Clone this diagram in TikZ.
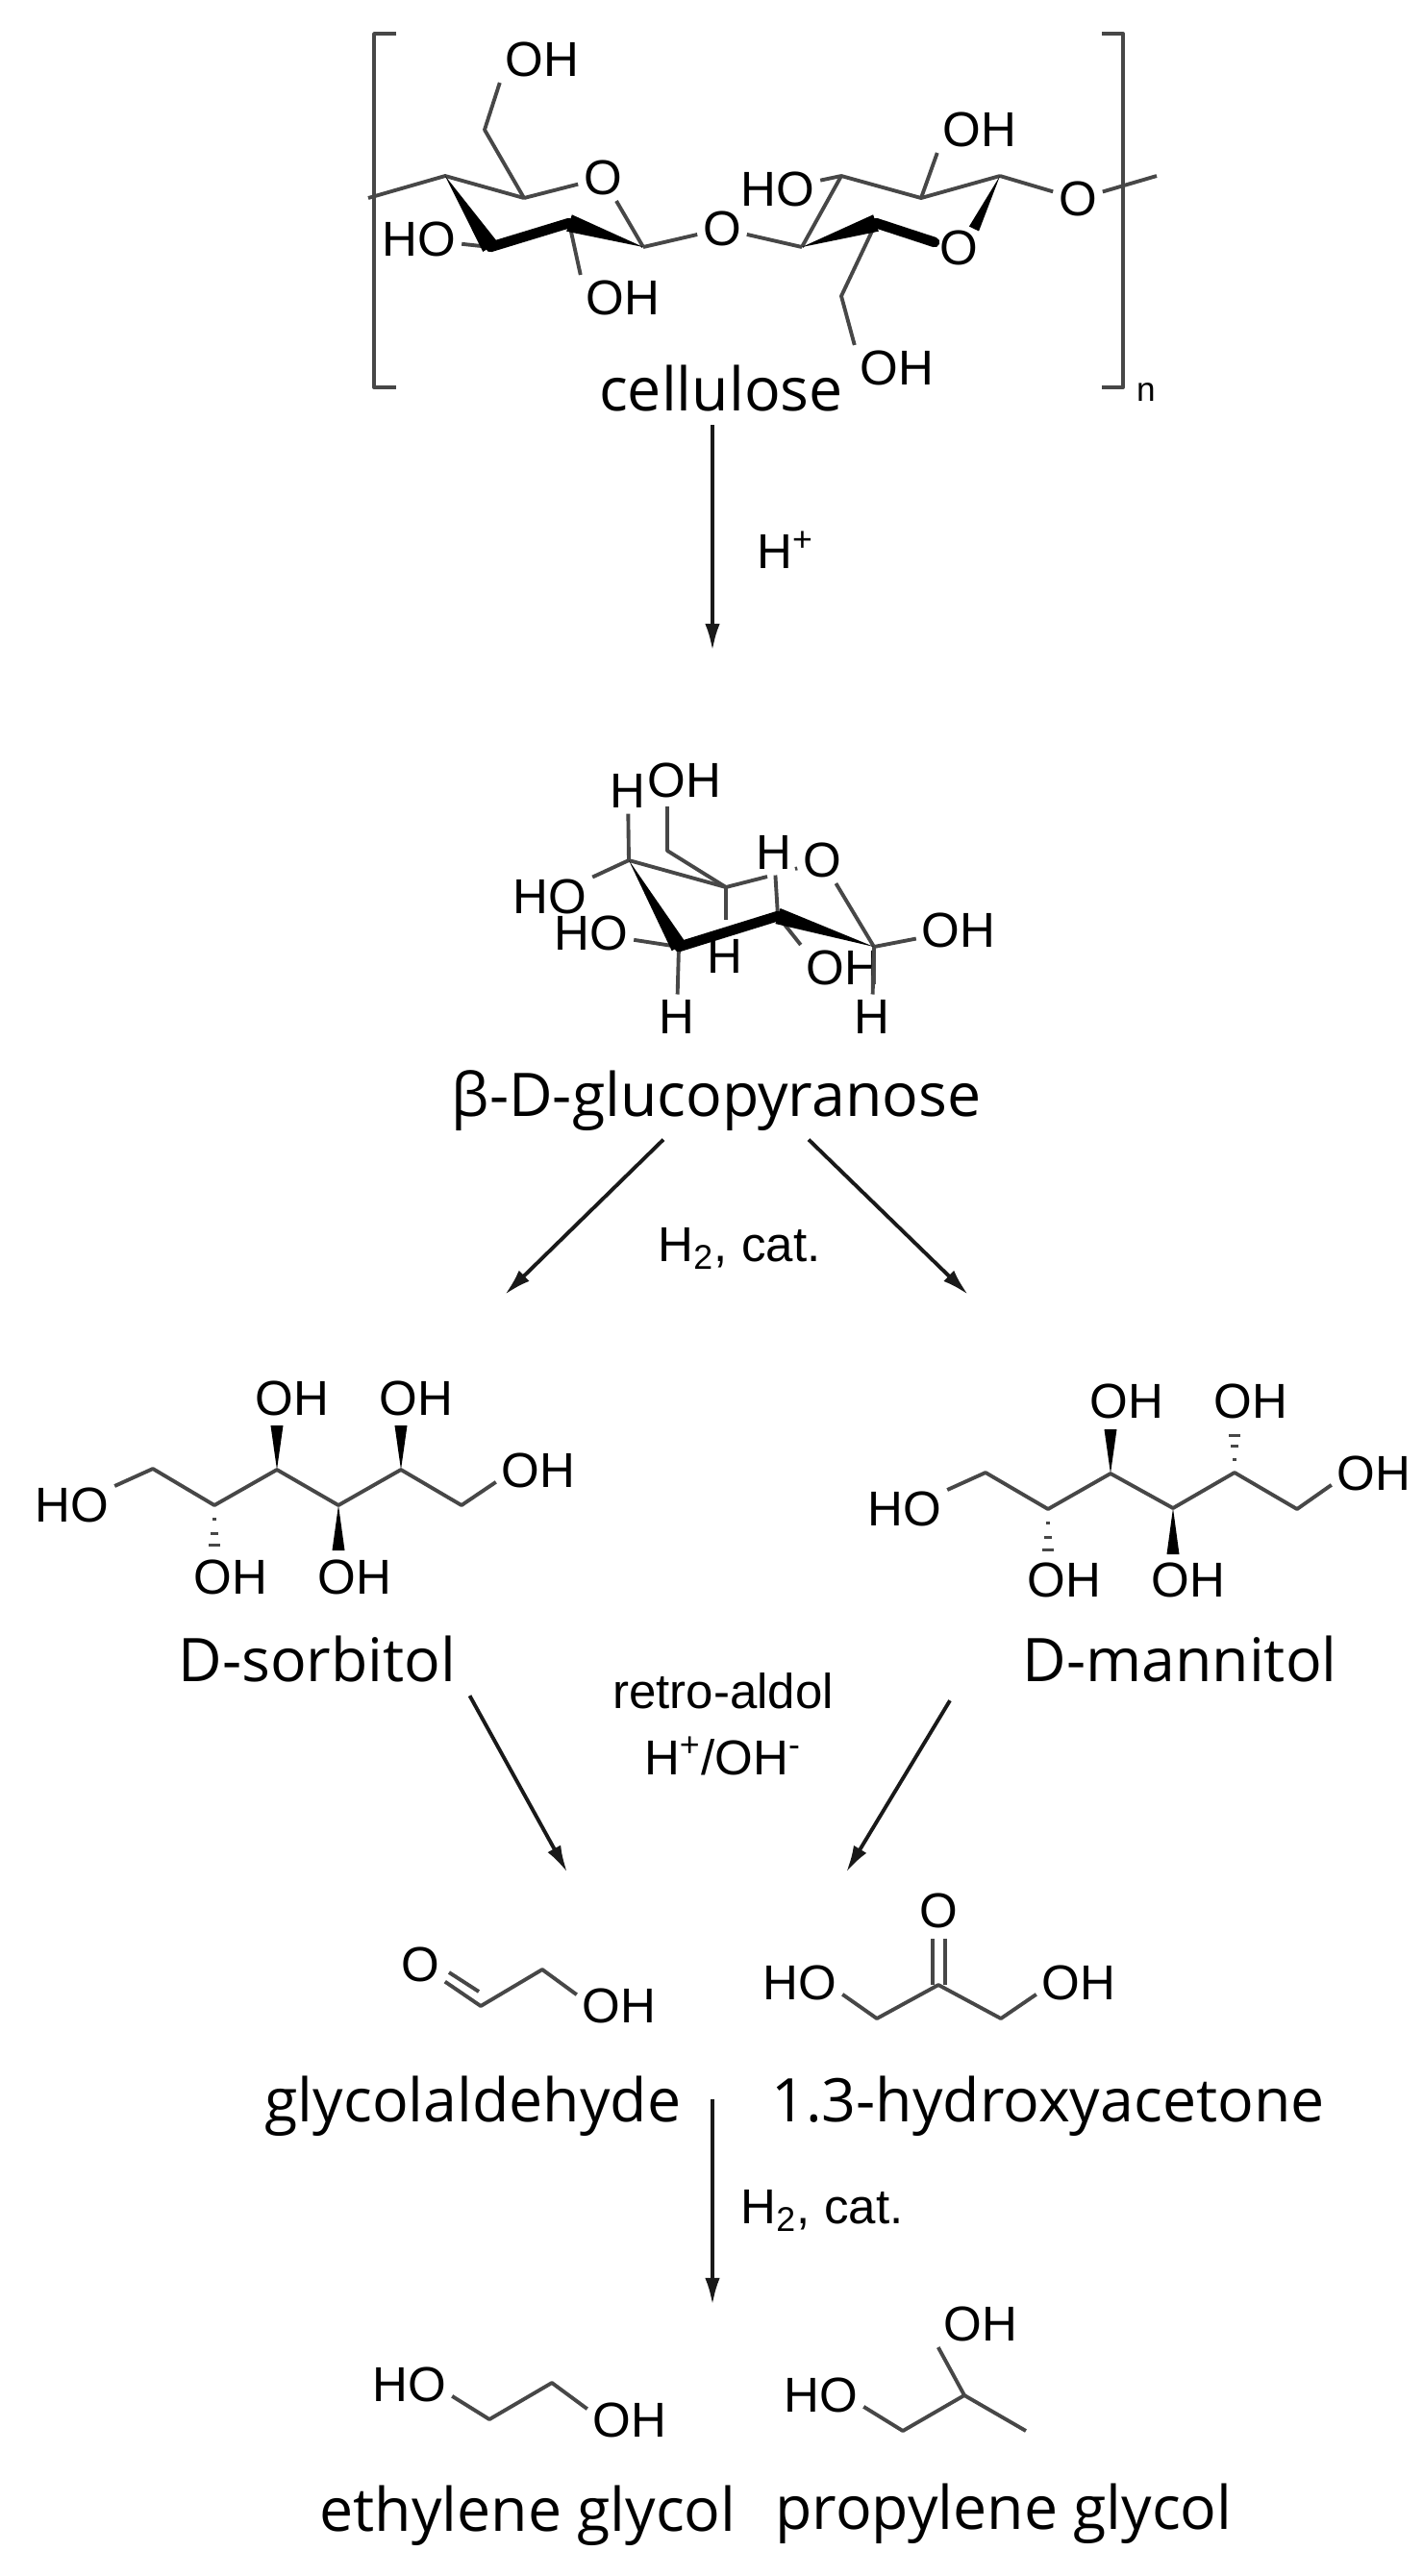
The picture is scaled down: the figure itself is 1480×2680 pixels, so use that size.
\documentclass[tikz,border=0pt]{standalone}
\usepackage{fontspec}
\setmainfont{Liberation Sans}
\newfontfamily\namefont{Open Sans}
\usetikzlibrary{shapes,arrows.meta,calc}
\tikzstyle{line} = [draw, -{Latex[length=8pt,width=4.4pt]}, line width=1.1pt, black!90]
\tikzstyle{bond} = [draw, black!72, line width=1.1pt, line join=round]
\tikzstyle{thick bond} = [draw, black, line width=3pt, line cap=round]
\tikzstyle{atom} = [inner sep=1.5pt, font=\fontsize{14.5}{16}\selectfont]
\tikzstyle{compound} = [inner sep=2pt, outer sep=2pt, font=\namefont\fontsize{17.8}{21}\selectfont]
\tikzstyle{cond} = [inner sep=1pt, font=\fontsize{14.5}{16}\selectfont]
\newcommand{\wedgebond}[3][1.85pt]{\fill[black] (#2) -- ($(#3)!#1!90:(#2)$) -- ($(#3)!#1!-90:(#2)$) -- cycle;}
\newcommand{\hashbond}[2]{\foreach \t/\w in {0.3/0.5pt,0.62/1.1pt,0.88/1.7pt,1/1.9pt}{\draw[black!72, line width=0.9pt] ($(#1)!\t!(#2)!\w!90:(#2)$) -- ($(#1)!\t!(#2)!\w!-90:(#2)$);}}
\begin{document}
\begin{tikzpicture}[x=0.01cm, y=-0.01cm]
    \useasboundingbox (0,0) rectangle (1480,2680);
    \draw[bond] (412,35) -- (389,35) -- (389,403) -- (412,403);
    \draw[bond] (1146,35) -- (1168,35) -- (1168,403) -- (1146,403);
    \node[cond, font=\fontsize{10}{12}\selectfont] (repeat) at (1192,408) {n};
    \coordinate (a0) at (383,206);
    \coordinate (a1) at (463,183);
    \coordinate (a2) at (545,206);
    \coordinate (a3) at (510,257);
    \coordinate (a4) at (592,232);
    \coordinate (a5) at (669,257);
    \coordinate (ach) at (504,135);
    \coordinate (b1) at (834,257);
    \coordinate (b2) at (911,232);
    \coordinate (b3) at (958,206);
    \coordinate (b4) at (875,183);
    \coordinate (b5) at (1040,183);
    \coordinate (bch) at (875,308);
    \coordinate (bo) at (972,252);
    \coordinate (bw) at (1013,238);
    \coordinate (end) at (1203,183);
    \node[atom] (o1) at (627,185) {O};
    \node[atom] (oha) at (564,62) {OH};
    \node[atom] (hoa) at (436,249) {HO};
    \node[atom] (ohb) at (648,310) {OH};
    \node[atom] (obr) at (751,238) {O};
    \node[atom] (o2) at (997,258) {O};
    \node[atom] (hob) at (809,197) {HO};
    \node[atom] (ohc) at (1019,135) {OH};
    \node[atom] (ohd) at (933,383) {OH};
    \node[atom] (ort) at (1121,207) {O};
    \node[compound] (cellulose) at (750,404) {cellulose};
    \draw[bond] (a0) -- (a1) -- (a2);
    \draw[bond] (a2) -- (o1);
    \draw[bond] (a2) -- (ach) -- (oha.south west);
    \draw[bond] (o1) -- (a5);
    \draw[bond] (a3) -- (hoa);
    \draw[bond] (a4) -- (ohb.north west);
    \draw[bond] (a5) -- (obr);
    \draw[bond] (obr) -- (b1);
    \draw[bond] (b1) -- (b4) -- (b3) -- (b5);
    \draw[bond] (b4) -- (hob);
    \draw[bond] (b3) -- (ohc.south west);
    \draw[bond] (b2) -- (bch) -- (ohd.north west);
    \draw[bond] (b5) -- (ort);
    \draw[bond] (ort) -- (end);
    \wedgebond[2.6pt]{a1}{a3}
    \draw[thick bond] (a3) -- (a4);
    \wedgebond[2.6pt]{a5}{a4}
    \wedgebond[2.6pt]{b1}{b2}
    \draw[thick bond] (b2) -- (bo);
    \wedgebond[1.6pt]{b5}{bw}
    \coordinate (c1) at (654,895);
    \coordinate (c2) at (755,923);
    \coordinate (c3) at (809,953);
    \coordinate (c4) at (909,985);
    \coordinate (c5) at (706,985);
    \coordinate (cch) at (694,885);
    \coordinate (cci) at (694,839);
    \coordinate (cd) at (755,957);
    \coordinate (ce) at (798,912);
    \coordinate (cf) at (827,904);
    \node[atom] (hc) at (653,823) {H};
    \node[atom] (ohe) at (712,812) {OH};
    \node[atom] (hd) at (805,887) {H};
    \node[atom] (o3) at (855,895) {O};
    \node[atom] (ohf) at (997,968) {OH};
    \node[atom] (he) at (907,1058) {H};
    \node[atom] (ohg) at (877,1007) {OH};
    \node[atom] (hf) at (754,995) {H};
    \node[atom] (hg) at (704,1058) {H};
    \node[atom] (hoc) at (615,971) {HO};
    \node[atom] (hod) at (572,933) {HO};
    \node[compound] (gluco) at (745,1145) {β-D-glucopyranose};
    \draw[bond] (c1) -- (hc);
    \draw[bond] (c1) -- (c2);
    \draw[bond] (c2) -- (cch) -- (cci);
    \draw[bond] (c2) -- (cd);
    \draw[bond] (c2) -- (ce);
    \draw[bond] (cf) -- (o3);
    \draw[bond] (c3) -- (hd);
    \draw[bond] (o3) -- (c4);
    \draw[bond] (c4) -- (ohf);
    \draw[bond] (c4) -- (he);
    \draw[bond] (c3) -- (ohg.north west);
    \draw[bond] (c5) -- (hoc);
    \draw[bond] (c1) -- (hod);
    \draw[bond] (c5) -- (hg);
    \wedgebond[2.4pt]{c1}{c5}
    \draw[thick bond] (c5) -- (c3);
    \wedgebond[2.4pt]{c4}{c3}
    \coordinate (s1) at (159,1528);
    \coordinate (s2) at (223,1566);
    \coordinate (s3) at (288,1529);
    \coordinate (s4) at (352,1566);
    \coordinate (s5) at (417,1529);
    \coordinate (s6) at (480,1566);
    \coordinate (s2h) at (223,1613);
    \coordinate (s3w) at (288,1483);
    \coordinate (s4w) at (352,1613);
    \coordinate (s5w) at (417,1483);
    \node[atom] (hos) at (75,1566) {HO};
    \node[atom] (ohs) at (560,1530) {OH};
    \node[atom] (ohsa) at (304,1455) {OH};
    \node[atom] (ohsb) at (433,1455) {OH};
    \node[atom] (ohsc) at (240,1641) {OH};
    \node[atom] (ohsd) at (369,1641) {OH};
    \node[compound] (sorbitol) at (330,1726) {D-sorbitol};
    \draw[bond] (hos) -- (s1) -- (s2) -- (s3) -- (s4) -- (s5) -- (s6) -- (ohs.195);
    \wedgebond{s3}{s3w}
    \wedgebond{s5}{s5w}
    \wedgebond{s4}{s4w}
    \hashbond{s2}{s2h}
    \coordinate (m1) at (1025,1532);
    \coordinate (m2) at (1090,1570);
    \coordinate (m3) at (1155,1533);
    \coordinate (m4) at (1220,1569);
    \coordinate (m5) at (1284,1532);
    \coordinate (m6) at (1349,1570);
    \coordinate (m2h) at (1090,1618);
    \coordinate (m3w) at (1155,1487);
    \coordinate (m4w) at (1220,1617);
    \coordinate (m5h) at (1284,1488);
    \node[atom] (hom) at (941,1570) {HO};
    \node[atom] (ohm) at (1429,1533) {OH};
    \node[atom] (ohma) at (1172,1458) {OH};
    \node[atom] (ohmb) at (1301,1458) {OH};
    \node[atom] (ohmc) at (1107,1644) {OH};
    \node[atom] (ohmd) at (1236,1644) {OH};
    \node[compound] (mannitol) at (1227,1726) {D-mannitol};
    \draw[bond] (hom) -- (m1) -- (m2) -- (m3) -- (m4) -- (m5) -- (m6) -- (ohm.195);
    \wedgebond{m3}{m3w}
    \wedgebond{m4}{m4w}
    \hashbond{m2}{m2h}
    \hashbond{m5}{m5h}
    \coordinate (g1) at (500,2087);
    \coordinate (g2) at (564,2049);
    \coordinate (ga) at (467,2052);
    \coordinate (gb) at (498,2072);
    \node[atom] (og) at (437,2044) {O};
    \node[atom] (ohgl) at (644,2087) {OH};
    \node[compound] (glycol) at (492,2191) {glycolaldehyde};
    \draw[bond] (og) -- (g1) -- (g2) -- (ohgl.165);
    \draw[bond] (ga) -- (gb);
    \coordinate (h1) at (912,2100);
    \coordinate (h2) at (976,2065);
    \coordinate (h3) at (1041,2100);
    \coordinate (da) at (970,2017);
    \coordinate (db) at (970,2065);
    \coordinate (dc) at (983,2017);
    \coordinate (dd) at (983,2065);
    \node[atom] (oh) at (976,1988) {O};
    \node[atom] (hoh) at (832,2063) {HO};
    \node[atom] (ohh) at (1122,2063) {OH};
    \node[compound] (hydroxy) at (1090,2191) {1.3-hydroxyacetone};
    \draw[bond] (hoh.-15) -- (h1) -- (h2) -- (h3) -- (ohh.195);
    \draw[bond] (da) -- (db);
    \draw[bond] (dc) -- (dd);
    \coordinate (e1) at (509,2517);
    \coordinate (e2) at (574,2479);
    \node[atom] (hoe) at (426,2481) {HO};
    \node[atom] (ohe2) at (655,2518) {OH};
    \node[compound] (ethylene) at (549,2617) {ethylene glycol};
    \draw[bond] (hoe.-15) -- (e1) -- (e2) -- (ohe2.165);
    \coordinate (p1) at (939,2529);
    \coordinate (p2) at (1003,2492);
    \coordinate (p3) at (1067,2529);
    \node[atom] (hop) at (854,2492) {HO};
    \node[atom] (ohp) at (1020,2418) {OH};
    \node[compound] (propylene) at (1044,2615) {propylene glycol};
    \draw[bond] (hop.-15) -- (p1) -- (p2) -- (p3);
    \draw[bond] (p2) -- (ohp.south west);
    \coordinate (tipa) at (741,677);
    \coordinate (tipb) at (525,1347);
    \coordinate (tipc) at (1007,1347);
    \coordinate (tipd) at (590,1948);
    \coordinate (tipe) at (880,1948);
    \coordinate (tipf) at (741,2398);
    \node[cond] (acid) at (817,572) {H\textsuperscript{+}};
    \node[cond] (cata) at (769,1299) {H\textsubscript{2}, cat.};
    \node[cond] (retro) at (752,1759) {retro-aldol};
    \node[cond] (base) at (752,1827) {H\textsuperscript{+}/OH\textsuperscript{-}};
    \node[cond] (catb) at (855,2300) {H\textsubscript{2}, cat.};
    \path[line] (cellulose.south -| tipa) -- (tipa);
    \path[line] ($(gluco.south)+(-55,-5)$) -- (tipb);
    \path[line] ($(gluco.south)+(96,-5)$) -- (tipc);
    \path[line] (sorbitol.south east) -- (tipd);
    \path[line] ($(mannitol.south)+(-239,5)$) -- (tipe);
    \path[line] ($(glycol.east -| tipf)+(0,-7)$) -- (tipf);
\end{tikzpicture}
\end{document}
